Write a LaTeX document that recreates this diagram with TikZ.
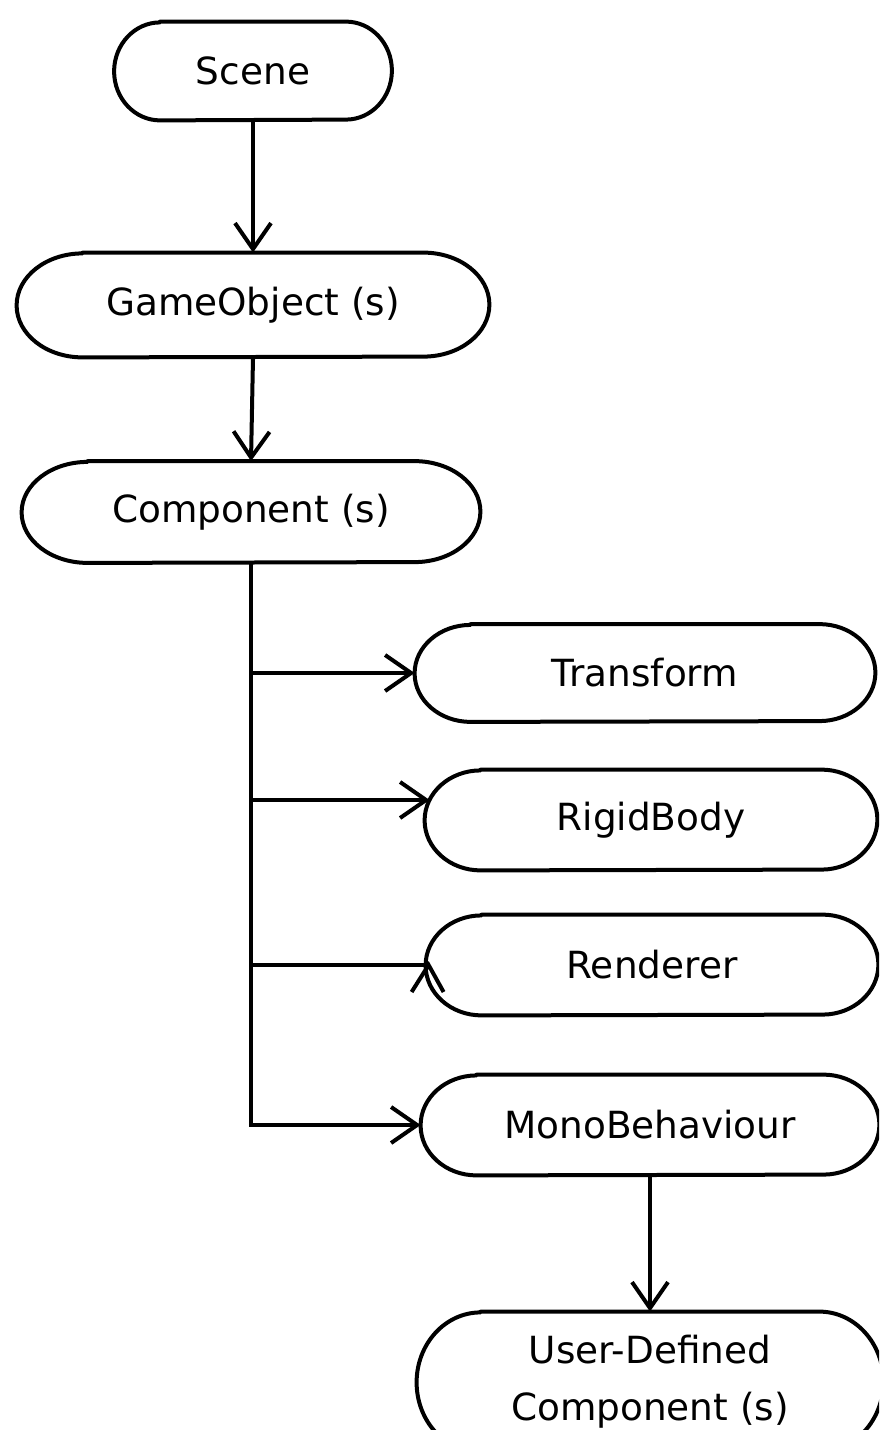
\documentclass[tikz,border=0pt]{standalone}
\usepackage{fontspec}
\setmainfont{DejaVu Sans}
\usetikzlibrary{arrows.meta,calc}
\newcommand\ovalnode[3]{%
  \draw[line width=2pt,line join=round]
    ($(#1.north west)+(#2,0pt)$) -- ($(#1.north east)+(-#2,0pt)$)
    arc[start angle=90,end angle=-90,x radius=#2,y radius=#3]
    -- ($(#1.south west)+(#2,0pt)$)
    arc[start angle=270,end angle=90,x radius=#2,y radius=#3] -- cycle;}
\begin{document}
\begin{tikzpicture}[x=0.5pt,y=-0.5pt,
  box/.style={draw=none,inner sep=0pt,
    font=\fontsize{18.7}{28.5}\selectfont,align=center},
  arr/.style={line width=2pt,-{Straight Barb[length=13pt,width=18pt,line width=2pt]}},
  ln/.style={line width=2pt}]
\useasboundingbox (0,0) rectangle (879,1430);
\clip (0,0) rectangle (879,1430);
\fill[white] (0,0) rectangle (879,1430);
\node[box,minimum width=138.5pt,minimum height=49pt] (scene) at (253,71) {Scene};
\node[box,minimum width=236pt,minimum height=52pt] (go) at (253,305) {GameObject (s)};
\node[box,minimum width=229pt,minimum height=50.5pt] (comp) at (251,512) {Component (s)};
\node[box,minimum width=230pt,minimum height=48.5pt] (tr) at (645,673) {Transform};
\node[box,minimum width=226pt,minimum height=50pt] (rb) at (651,820) {RigidBody};
\node[box,minimum width=226pt,minimum height=50pt] (ren) at (652,965) {Renderer};
\node[box,minimum width=229pt,minimum height=50pt] (mb) at (650,1125) {MonoBehaviour};
\node[box,minimum width=233pt,minimum height=70pt] (ud) at (650,1382) {User-Defined\\Component (s)};
\ovalnode{scene}{23pt}{24.5pt}
\ovalnode{go}{33pt}{26pt}
\ovalnode{comp}{33pt}{25.25pt}
\ovalnode{tr}{28pt}{24.25pt}
\ovalnode{rb}{28pt}{25pt}
\ovalnode{ren}{28pt}{25pt}
\ovalnode{mb}{28pt}{25pt}
\ovalnode{ud}{32pt}{35pt}
\draw[arr] (scene.south) -- (go.north);
\draw[arr] (go.south) -- (comp.north);
\draw[arr] (comp.south) |- (mb.west);
\draw[arr] (comp.south |- tr.west) -- (tr.west);
\coordinate (rbin) at ($(rb.west)+(5,-20)$);
\draw[arr] (comp.south |- rbin) -- (rbin);
\coordinate (renin) at ($(ren.west)+(3,0)$);
\draw[ln] (comp.south |- renin) -- (renin);
\draw[ln] ($(renin)+(-17,27)$) -- (renin) -- ($(renin)+(15,27)$);
\draw[arr] (mb.south) -- (ud.north);
\end{tikzpicture}
\end{document}
